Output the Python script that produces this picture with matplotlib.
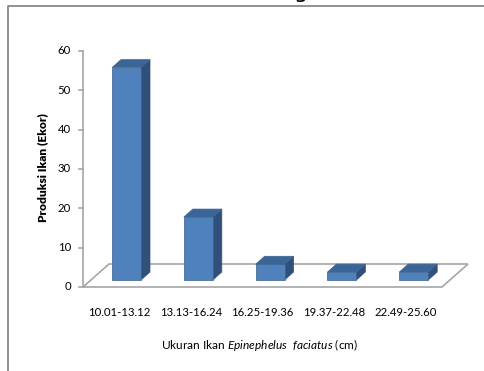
import matplotlib
matplotlib.use("Agg")
import matplotlib.pyplot as plt
from matplotlib.patches import Polygon
from matplotlib.lines import Line2D

categories = ["10.01-13.12", "13.13-16.24", "16.25-19.36", "19.37-22.48", "22.49-25.60"]
values = [54, 16, 4, 2, 2]
yticks = [0, 10, 20, 30, 40, 50, 60]
ylabel = "Produksi Ikan (Ekor)"

plt.rcParams['font.family'] = ['Lato', 'DejaVu Sans']
plt.rcParams['mathtext.fontset'] = 'custom'
plt.rcParams['mathtext.rm'] = 'Lato'
plt.rcParams['mathtext.it'] = 'Lato:italic'

W, H = 484, 371
fig = plt.figure(figsize=(W/100, H/100), dpi=100)
fig.patch.set_facecolor('white')

# axes area (front plane)
L, R, B, T = 83, 442, 287, 51
ax = fig.add_axes([L/W, (H-B)/H, (R-L)/W, (B-T)/H])
ax.set_xlim(-0.5, len(categories) - 0.5)
ax.set_ylim(0, 60)
ax.axis('off')

pxx = (R - L) / len(categories)  # px per x unit
pxy = (B - T) / 60.0              # px per y unit

# oblique depth offsets (pixels -> data)
fdx, fdy = 7.6 / pxx, 7.0 / pxy      # bar front face offset
ddx, ddy = 9.0 / pxx, 8.0 / pxy      # bar depth
bdx, bdy = 26.0 / pxx, 23.0 / pxy    # floor depth
bw = 29.0 / pxx

floor_col = '#A6A6A6'
n = len(categories)
floor = Polygon([(-0.5, 0), (n - 0.5, 0), (n - 0.5 + bdx, bdy), (-0.5 + bdx, bdy)],
                closed=True, fill=False, edgecolor=floor_col, lw=1.2, clip_on=False)
ax.add_patch(floor)

front_c = '#4F81BD'
side_c = '#30507A'
top_c = '#3B6497'
edge_c = '#3A5F8C'
for i, v in enumerate(values):
    x0 = i - bw / 2 + fdx
    x1 = x0 + bw
    y0 = fdy
    y1 = fdy + v
    side = Polygon([(x1, y0), (x1 + ddx, y0 + ddy), (x1 + ddx, y1 + ddy), (x1, y1)],
                   closed=True, facecolor=side_c, edgecolor=side_c, lw=0.5, clip_on=False)
    top = Polygon([(x0, y1), (x1, y1), (x1 + ddx, y1 + ddy), (x0 + ddx, y1 + ddy)],
                  closed=True, facecolor=top_c, edgecolor=top_c, lw=0.5, clip_on=False)
    front = Polygon([(x0, y0), (x1, y0), (x1, y1), (x0, y1)],
                    closed=True, facecolor=front_c, edgecolor=edge_c, lw=0.5, clip_on=False)
    ax.add_patch(side)
    ax.add_patch(top)
    ax.add_patch(front)

# vertical axis
ax.add_line(Line2D([-0.5, -0.5], [0, 60], color=floor_col, lw=1.2, clip_on=False))
tlen = 4.0 / pxx
for t in yticks:
    ax.add_line(Line2D([-0.5 - tlen, -0.5], [t, t], color=floor_col, lw=1.2, clip_on=False))
    ax.text(-0.5 - 12.0 / pxx, t, str(t), ha='right', va='center', fontsize=8.2, color='black')

for i, c in enumerate(categories):
    ax.text(i, -26.0 / pxy, c, ha='center', va='center', fontsize=8.2, color='black')

fig.text(43 / W, 1 - 168 / H, ylabel, rotation=90, ha='center', va='center',
         fontsize=8.6, fontweight='heavy', color='black')
fig.text(260 / W, 1 - 345 / H, r'Ukuran Ikan $\it{Epinephelus}$  $\it{faciatus}$ (cm)',
         ha='center', va='center', fontsize=8.6, color='black')

# outer frame lines
fig.add_artist(Line2D([8 / W, 8 / W, 1.0], [0.0, 1 - 6 / H, 1 - 6 / H],
                      transform=fig.transFigure, color='#888888', lw=1.3))
# partial caption glyph cut off at top (as in the reference)
fig.text(301 / W, 1 + 1.6 / H, 'g', ha='center', va='baseline', fontsize=16,
         family='DejaVu Sans', color='black')

fig.savefig('out.png', dpi=100, facecolor='white')
